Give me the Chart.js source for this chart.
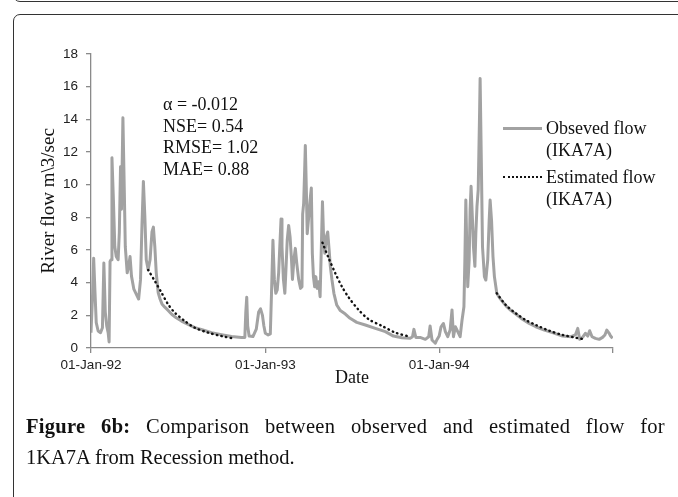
<!DOCTYPE html>
<html>
<head>
<meta charset="utf-8">
<script src="https://cdn.jsdelivr.net/npm/chart.js@4.4.1/dist/chart.umd.min.js"></script>
<style>
  body { margin:0; width:678px; height:497px; overflow:hidden; background:#fff; position:relative; font-family:"Liberation Serif", serif; color:#111; }
  .frame { position:absolute; border:1.3px solid #333; border-radius:7px; }
  #prev { left:13px; top:-40px; width:720px; height:40px; }
  #box { left:13px; top:14px; width:720px; height:600px; }
  #chart { position:absolute; left:0; top:0; }
  .stats { position:absolute; left:163px; top:94px; font-size:18px; line-height:21.7px; white-space:nowrap; }
  .leg { position:absolute; left:546px; font-size:18px; line-height:22px; white-space:nowrap; }
  .swatch { position:absolute; left:503px; width:39px; height:0; }
  .caption { position:absolute; left:26px; width:639px; font-size:20.5px; line-height:31px; }
  .caption .l1 { text-align:justify; text-align-last:justify; letter-spacing:0.3px; white-space:nowrap; }
  .caption b { font-weight:bold; }
</style>
</head>
<body>
<div class="frame" id="prev"></div>
<div class="frame" id="box"></div>
<canvas id="chart" width="678" height="497"></canvas>

<div class="stats">α = -0.012<br>NSE= 0.54<br>RMSE= 1.02<br>MAE= 0.88</div>

<div class="swatch" style="top:126.5px; border-top:3px solid #a2a2a2;"></div>
<div class="leg" style="top:117px;">Obseved flow<br>(IKA7A)</div>
<div class="swatch" style="top:175.5px; border-top:2.5px dotted #111;"></div>
<div class="leg" style="top:166px;">Estimated flow<br>(IKA7A)</div>

<div class="caption" style="top:411px;">
  <div class="l1"><b>Figure 6b:</b> Comparison between observed and estimated flow for</div>
  <div>1KA7A from Recession method.</div>
</div>

<script>
// days counted from 01-Jan-92
const yearTicks = [0, 366, 731, 1096];
const yearLabels = ['01-Jan-92', '01-Jan-93', '01-Jan-94', ''];
const flowTicks = [0, 2, 4, 6, 8, 10, 12, 14, 16, 18];

// observed flow (IKA7A), m^3/sec
const obsDays = [
  0, 3.5, 5.6, 8.4, 11, 15, 20, 24, 27, 30, 33, 36, 38, 40, 42, 44, 47, 50, 53, 57, 59.5, 62, 64, 67, 70, 72,
  76, 79, 82, 85, 90, 95, 100, 104, 107, 110, 113, 116, 120, 124, 128, 131, 134, 137, 141, 145, 149, 155,
  162, 170, 179, 190, 204, 218, 235, 253, 274, 295, 316, 323, 325, 327, 329, 332, 340, 347, 352, 356, 360,
  363, 366, 372, 376.5, 379, 382, 385, 388, 391, 394, 397, 399, 401, 404, 407, 409, 412, 415, 418, 421,
  423, 426, 429, 432, 436, 440, 443, 444.4, 446.5, 448.6, 450, 452, 454, 457, 460, 462.6, 464.7, 467,
  469.6, 472, 475, 478, 481, 483, 486, 488.5, 491, 494, 497, 500, 502.5, 506, 510, 516, 523.5, 534, 544,
  558, 576, 597, 618, 635, 653, 670, 675, 678, 682, 691, 702, 709, 712, 716, 723, 726, 731, 735, 740, 744,
  749, 754, 758, 761, 765, 770, 775, 779, 783, 785, 787, 789, 791, 794, 796, 798, 801, 803, 806, 808,
  810.4, 813, 816, 817, 819.5, 822, 826, 829, 833, 836, 838, 841, 844, 847, 852, 857, 864, 873, 882,
  892, 906, 920, 934, 952, 969, 990, 1008, 1017, 1022, 1026, 1032, 1038, 1043, 1047, 1052, 1059, 1067,
  1074, 1079, 1083, 1088, 1091, 1095
];
const obsFlow = [
  0.94, 3.4, 5.5, 3.4, 1.55, 1.04, 0.94, 1.24, 5.2, 2.2, 1.35, 0.94, 0.37, 5.3, 5.4, 11.65, 9.1, 6.2, 5.6, 5.4, 7.1, 11.1, 8.5, 14.1, 9.5, 6.2,
  4.6, 5.0, 5.6, 4.4, 3.6, 3.3, 3.0, 4.2, 7.5, 10.2, 8.1, 5.4, 4.8, 5.4, 7.1, 7.4, 6.2, 4.6, 3.4, 3.0, 2.7, 2.5,
  2.3, 2.05, 1.85, 1.65, 1.45, 1.25, 1.1, 0.94, 0.82, 0.7, 0.65, 0.65, 2.2, 3.1, 1.35, 0.73, 0.7, 1.15, 2.2, 2.4, 2.0,
  1.35, 0.9, 0.8, 0.86, 3.35, 6.6, 4.2, 3.35, 3.55, 4.6, 6.6, 7.9, 6.2, 4.2, 3.35, 4.6, 6.6, 7.5, 6.8, 5.4,
  4.2, 5.4, 6.1, 5.2, 4.2, 3.65, 3.75, 8.2, 8.85, 10.9, 12.4, 9.9, 7.0, 8.0, 9.06, 9.8, 5.8, 4.37,
  3.75, 4.37, 3.65, 4.06, 3.14, 5.4, 8.96, 6.6, 5.8, 6.8, 7.1, 6.0, 5.0, 4.16, 3.35, 2.63, 2.29, 2.08, 1.82,
  1.57, 1.41, 1.2, 1.0, 0.73, 0.63, 0.59, 0.69, 1.14, 0.65, 0.65, 0.53, 0.69, 1.35, 0.49, 0.29, 0.49, 0.73, 1.3, 1.5, 1.0,
  0.69, 1.1, 2.33, 0.69, 1.3, 1.0, 0.69, 1.7, 2.53, 5.4, 9.06, 6.2, 3.75, 5.4, 8.45, 9.9, 7.8, 6.2, 5.0, 7.0,
  8.65, 9.7, 14.6, 16.5, 11.5, 6.2, 4.37, 4.16, 5.4, 7.8, 9.06, 7.8, 5.6, 4.37, 3.35, 3.1, 2.84, 2.53, 2.29,
  2.08, 1.76, 1.5, 1.3, 1.1, 0.94, 0.73, 0.69, 0.8, 1.2, 0.53, 0.65, 0.9, 0.73, 1.06, 0.69, 0.59, 0.53,
  0.65, 0.8, 1.1, 0.9, 0.73, 0.59
];

// estimated flow (IKA7A), recession segments separated by gaps
const estDays = [
  120, 134, 148, 162, 176, 197, 218, 246, 274, 302, 400,
  486, 499, 513, 527, 541, 562, 583, 611, 639, 670, 760,
  852, 871, 892, 913, 934, 962, 990, 1018, 1036
];
const estFlow = [
  4.78, 4.1, 3.39, 2.67, 2.16, 1.65, 1.24, 0.94, 0.73, 0.57, null,
  6.45, 5.5, 4.57, 3.75, 3.1, 2.33, 1.76, 1.35, 0.94, 0.69, null,
  3.35, 2.63, 2.12, 1.71, 1.41, 1.06, 0.8, 0.63, 0.53
];

const axisGray = '#8a8a8a';
const tickFont = { family: 'Liberation Sans', size: 13.5 };

new Chart(document.getElementById('chart'), {
  type: 'line',
  data: {
    datasets: [
      {
        label: 'Obseved flow (IKA7A)',
        data: obsDays.map((d, i) => ({ x: d, y: obsFlow[i] })),
        borderColor: '#a2a2a2',
        borderWidth: 3,
        borderJoinStyle: 'round',
        pointRadius: 0,
        tension: 0,
        order: 2
      },
      {
        label: 'Estimated flow (IKA7A)',
        data: estDays.map((d, i) => ({ x: d, y: estFlow[i] })),
        borderColor: '#111',
        borderWidth: 2.4,
        borderDash: [0.5, 4.2],
        borderCapStyle: 'round',
        pointRadius: 0,
        tension: 0.3,
        spanGaps: false,
        order: 1
      }
    ]
  },
  options: {
    responsive: false,
    animation: false,
    devicePixelRatio: 1,
    layout: { padding: { left: 0, top: 54, right: 65, bottom: 107 } },
    plugins: { legend: { display: false }, tooltip: { enabled: false } },
    scales: {
      x: {
        type: 'linear',
        min: 0,
        max: 1096,
        afterBuildTicks: s => { s.ticks = yearTicks.map(v => ({ value: v })); },
        afterFit: s => { s.height = 42; },
        grid: { drawOnChartArea: false, color: axisGray, lineWidth: 1.3, tickLength: 5 },
        border: { color: axisGray, width: 1.3 },
        ticks: {
          autoSkip: false, maxRotation: 0, padding: 4, color: '#222', font: tickFont,
          callback: v => yearLabels[yearTicks.indexOf(v)] ?? ''
        },
        title: {
          display: true, text: 'Date', color: '#111',
          font: { family: 'Liberation Serif', size: 18 },
          padding: { top: 0, bottom: 1 }
        }
      },
      y: {
        min: 0,
        max: 18,
        afterBuildTicks: s => { s.ticks = flowTicks.map(v => ({ value: v })); },
        afterFit: s => { s.width = 91; },
        grid: { drawOnChartArea: false, color: axisGray, lineWidth: 1.3, tickLength: 5 },
        border: { color: axisGray, width: 1.3 },
        ticks: { autoSkip: false, padding: 8, color: '#222', font: tickFont },
        title: {
          display: true, text: 'River flow m\\3/sec', color: '#111',
          font: { family: 'Liberation Serif', size: 19 },
          padding: { top: 38, bottom: 0 }
        }
      }
    }
  }
});
</script>
</body>
</html>
